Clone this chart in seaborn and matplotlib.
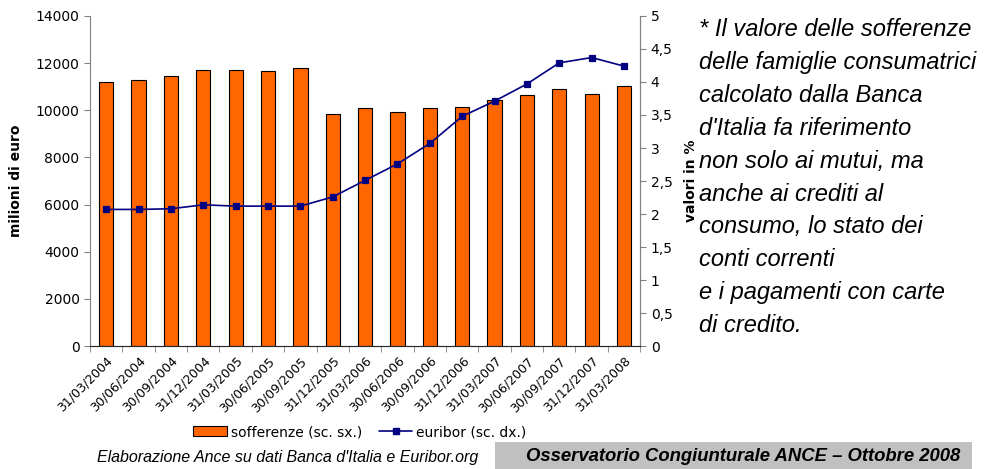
import numpy as np
import pandas as pd
import seaborn as sns
import matplotlib.pyplot as plt
from matplotlib.patches import Patch, Rectangle
from matplotlib.lines import Line2D

dates = ["31/03/2004", "30/06/2004", "30/09/2004", "31/12/2004", "31/03/2005",
         "30/06/2005", "30/09/2005", "31/12/2005", "31/03/2006", "30/06/2006",
         "30/09/2006", "31/12/2006", "31/03/2007", "30/06/2007", "30/09/2007",
         "31/12/2007", "31/03/2008"]
sofferenze = [11190, 11290, 11455, 11725, 11725, 11665, 11780, 9830, 10110,
              9940, 10110, 10155, 10440, 10650, 10915, 10705, 11030]
euribor = [2.07, 2.07, 2.08, 2.14, 2.12, 2.12, 2.12, 2.26, 2.51, 2.76, 3.07,
           3.48, 3.71, 3.97, 4.29, 4.37, 4.24]

df = pd.DataFrame({"data": dates, "sofferenze": sofferenze, "euribor": euribor})

sns.set_style("white")
plt.rcParams['font.family'] = ['DejaVu Sans']
plt.rcParams['text.color'] = 'black'
plt.rcParams['axes.labelcolor'] = 'black'
plt.rcParams['xtick.labelcolor'] = 'black'
plt.rcParams['ytick.labelcolor'] = 'black'

fig = plt.figure(figsize=(9.86, 4.69), dpi=100)
ax = fig.add_axes([0.0913, 0.262, 0.558, 0.704])

orange = "#FF6600"
navy = "#000080"

sns.barplot(data=df, x="data", y="sofferenze", color=orange, width=0.44,
            edgecolor="black", linewidth=0.8, saturation=1, ax=ax)
ax.set_ylim(0, 14000)
ax.set_yticks(range(0, 14001, 2000))
ax.set_xlim(-0.5, len(dates) - 0.5)
ax.set_xlabel("")
ax.set_ylabel("milioni di euro", fontsize=10, fontweight="bold", labelpad=9)
ax.tick_params(axis="y", labelsize=10, length=4, direction="out", left=True, color="#808080")
ax.set_xticks(range(len(dates)))
ax.set_xticklabels(dates, rotation=45, ha="right", rotation_mode="anchor", fontsize=9)
ax.tick_params(axis="x", length=0, pad=6)
ax.set_xticks(np.arange(-0.5, len(dates), 1), minor=True)
ax.tick_params(axis="x", which="minor", length=4, bottom=True, color="#808080")
ax.spines["top"].set_visible(False)
for s in ["left", "bottom", "right"]:
    ax.spines[s].set_color("#808080")

ax2 = ax.twinx()
sns.pointplot(data=df, x="data", y="euribor", color=navy, markers="s",
              markersize=5, linewidth=1.2, ax=ax2)
ax2.set_ylim(0, 5)
ax2.set_yticks(np.arange(0, 5.01, 0.5))
ax2.set_yticklabels([f"{v:g}".replace(".", ",") for v in np.arange(0, 5.01, 0.5)])
ax2.set_xlim(-0.5, len(dates) - 0.5)
ax2.set_xlabel("")
ax2.set_ylabel("valori in %", fontsize=10, fontweight="bold", labelpad=8)
ax2.tick_params(axis="y", labelsize=10, length=4, direction="out", right=True, color="#808080")
ax2.spines["top"].set_visible(False)
ax2.spines["right"].set_color("#808080")
ax2.spines["left"].set_visible(False)

handles = [Patch(facecolor=orange, edgecolor="black", linewidth=0.8),
           Line2D([0], [0], color=navy, marker="s", markersize=5, linewidth=1.2)]
fig.legend(handles, ["sofferenze (sc. sx.)", "euribor (sc. dx.)"],
           loc="center", bbox_to_anchor=(360 / 986, 1 - 432 / 469), ncol=2,
           frameon=False, fontsize=10, handlelength=2.4, handletextpad=0.3,
           columnspacing=1.2)

note = ("* Il valore delle sofferenze\ndelle famiglie consumatrici\ncalcolato dalla Banca\n"
        "d'Italia fa riferimento\nnon solo ai mutui, ma\nanche ai crediti al\n"
        "consumo, lo stato dei\nconti correnti\ne i pagamenti con carte\ndi credito.")
fig.text(699 / 986, 1 - 18 / 469, note, ha="left", va="top", fontsize=17,
         style="italic", family="Liberation Sans", linespacing=1.55)

fig.text(97 / 986, 1 - 457 / 469, "Elaborazione Ance su dati Banca d'Italia e Euribor.org",
         ha="left", va="center", fontsize=11.5, style="italic", family="Liberation Sans")
fig.patches.append(Rectangle((495 / 986, 0), 477 / 986, 27 / 469,
                             transform=fig.transFigure, facecolor="#C0C0C0",
                             edgecolor="none", zorder=0))
fig.text(743 / 986, 1 - 456 / 469, "Osservatorio Congiunturale ANCE \u2013 Ottobre 2008",
         ha="center", va="center", fontsize=13.3, style="italic", fontweight="bold",
         family="Liberation Sans")

fig.savefig("out.png", dpi=100)
